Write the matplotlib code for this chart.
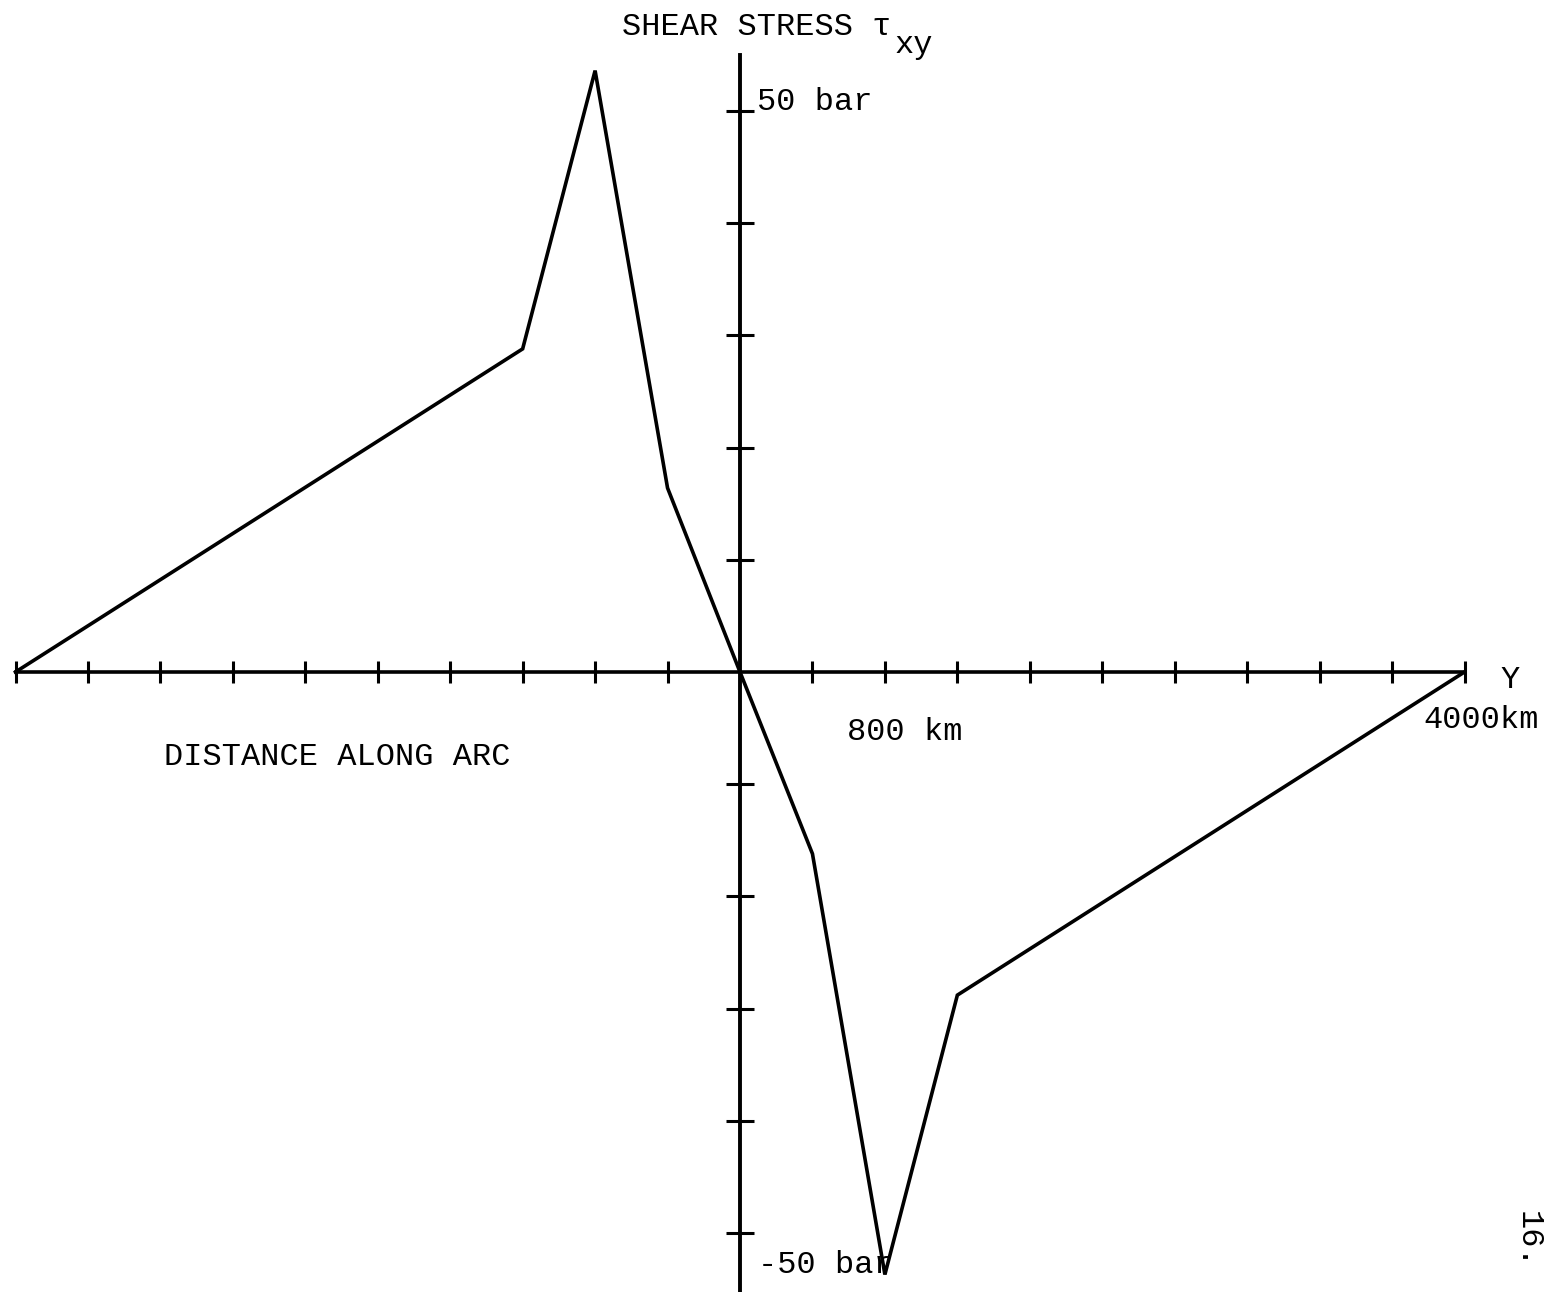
import numpy as np
import matplotlib
matplotlib.use("Agg")
import matplotlib.pyplot as plt

# distance along arc (km) and shear stress (bar)
dist_km = [-4000, -1200, -800, -400, 0, 400, 800, 1200, 4000]
tau_bar = [0, 28.8, 53.6, 16.4, 0, -16.2, -53.7, -28.8, 0]

x_ticks = [v for v in range(-4000, 4001, 400) if v != 0]
y_ticks = [v for v in range(-50, 51, 10) if v != 0]

W, H = 1553, 1292
fig = plt.figure(figsize=(W / 100, H / 100), dpi=100)
ax = fig.add_axes([0, 0, 1, 1])

# pixel mapping of the original sheet
sx = 1449 / 8000.0      # px per km
sy = 11.22              # px per bar
x0, y0 = 740, 672       # origin in pixels
ax.set_xlim(-x0 / sx, (W - x0) / sx)
ax.set_ylim(-(H - y0) / sy, y0 / sy)

ax.plot(dist_km, tau_bar, color="black", lw=2.6, solid_joinstyle="miter", zorder=3)

for s in ["top", "right"]:
    ax.spines[s].set_visible(False)
ax.spines["left"].set_position(("data", 0))
ax.spines["bottom"].set_position(("data", 0))
ax.spines["left"].set_linewidth(2.8)
ax.spines["bottom"].set_linewidth(2.6)
ax.spines["bottom"].set_bounds(-4000, 4000)
ax.spines["left"].set_bounds(-(H - y0) / sy, (y0 - 55) / sy)

ax.set_xticks(x_ticks)
ax.set_yticks(y_ticks)
ax.tick_params(axis="x", direction="inout", length=16.5, width=2.2, labelbottom=False)
ax.tick_params(axis="y", direction="inout", length=20, width=2.2, labelleft=False)
ax.patch.set_visible(False)

font = dict(family="Liberation Mono", size=23, color="black")


def label(x, y, s, **kw):
    opts = dict(font)
    opts.update(kw)
    fig.text(x / W, 1 - y / H, s, ha=opts.pop("ha", "left"), va=opts.pop("va", "baseline"), **opts)


label(622, 35, "SHEAR STRESS τ")
label(895, 53, "xy")
label(757, 110, "50 bar")
label(847, 740, "800 km")
label(1500, 688, "Y")
label(1423, 728, "4000km")
label(164, 765, "DISTANCE ALONG ARC")
label(758, 1273, "-50 bar", zorder=1)
label(1528, 1240, "16.", rotation=-90, ha="center", va="center")

fig.savefig("out.png", dpi=100, facecolor="white")
